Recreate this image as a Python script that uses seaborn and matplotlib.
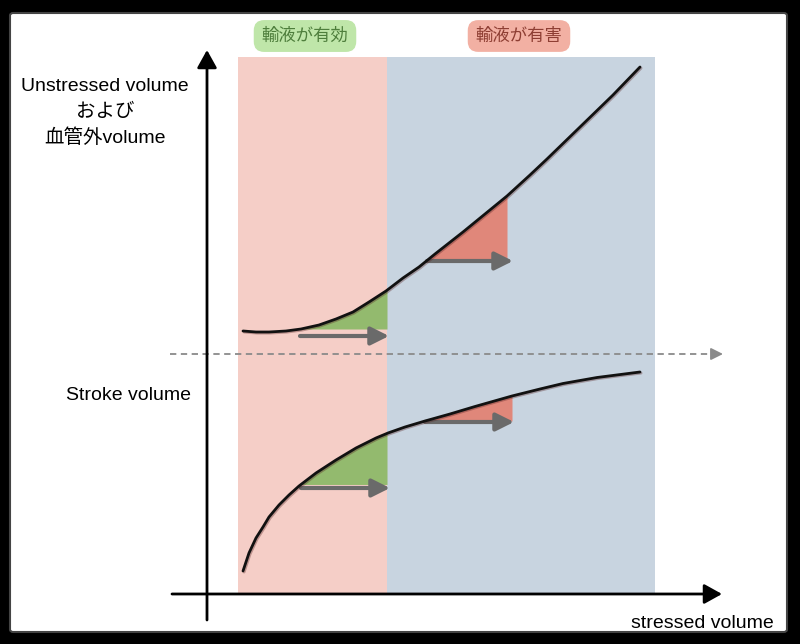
import numpy as np
import pandas as pd
import matplotlib
matplotlib.use("Agg")
import matplotlib.pyplot as plt
import matplotlib.patheffects as pe
from matplotlib.patches import FancyBboxPatch, Rectangle
import seaborn as sns

# ---------------- data (chart units: origin at axis crossing) ----------------
upper_x = [36, 49, 62, 79, 94, 112, 129, 146, 162, 179, 196, 212, 228, 256, 278,
           300, 323, 340, 373, 406, 433]
upper_y = [263, 262, 262, 263, 265, 269, 275, 282, 292, 303, 316, 327, 340, 362, 380,
           398, 419, 435, 467, 499, 527]

lower_x = [36, 42, 49, 56, 62, 72, 82, 92, 109, 129, 149, 169, 181, 198, 218, 243,
           268, 305, 333, 356, 390, 433]
lower_y = [23, 41, 56, 67, 77, 89, 99, 108, 121, 134, 146, 156, 161, 167, 173, 180,
           187.5, 198, 205, 210.5, 216.5, 222]

# triangles: (curve, x_start, x_end, colour)
tri_curve = ["upper", "upper", "lower", "lower"]
tri_x0 = [94, 220, 94, 218]
tri_x1 = [180, 300, 180, 305]
tri_kind = ["good", "bad", "good", "bad"]
# arrows under triangles
arr_y = [258, 333, 106, 172]
arr_x0 = [93, 220, 94, 218]
arr_x1 = [182, 306, 183, 307]

# shaded zones
zone_x0 = [31, 180]
zone_x1 = [180, 448]
zone_top = 537
zone_labels = ["輸液が有効", "輸液が有害"]

y_label_lines = ["Unstressed volume", "および", "血管外volume"]
sv_label = "Stroke volume"
x_label = "stressed volume"
divider_y = 240

# ---------------- style ----------------
sns.set_theme(style="white")
plt.rcParams["font.family"] = ["Liberation Sans", "Noto Sans CJK JP", "DejaVu Sans"]

PINK = "#F5CEC7"
BLUE = "#C8D4E0"
GREEN_TRI = "#93BA6E"
RED_TRI = "#E0877A"
GRAY_ARR = "#6a6a6a"

fig = plt.figure(figsize=(8, 6.44), dpi=100, facecolor="black")
# white panel
panel = FancyBboxPatch((10 / 800, 12 / 644), 777 / 800, 619 / 644,
                       boxstyle="round,pad=0,rounding_size=0.004",
                       transform=fig.transFigure, fc="white", ec="#444",
                       lw=1.5, zorder=-10)
fig.patches.append(panel)
ax = fig.add_axes([0, 0, 1, 1])
ax.set_zorder(5)
ax.set_facecolor("none")
ax.set_xlim(-207, 593)
ax.set_ylim(-50, 594)
ax.axis("off")

# zones
for x0, x1, c in zip(zone_x0, zone_x1, [PINK, BLUE]):
    ax.add_patch(Rectangle((x0, 0), x1 - x0, zone_top, fc=c, ec="none", zorder=1))

curves = {"upper": (np.array(upper_x), np.array(upper_y)),
          "lower": (np.array(lower_x), np.array(lower_y))}

# triangles
for cname, x0, x1, kind in zip(tri_curve, tri_x0, tri_x1, tri_kind):
    cx, cy = curves[cname]
    base = np.interp(x0, cx, cy)
    inner = (cx > x0) & (cx < x1)
    xs = np.concatenate([[x0], cx[inner], [x1]])
    ys = np.concatenate([[base], cy[inner], [np.interp(x1, cx, cy)]])
    ax.fill_between(xs, base, ys, color=GREEN_TRI if kind == "good" else RED_TRI,
                    lw=0, zorder=2)

# curves
df = pd.concat([
    pd.DataFrame({"x": upper_x, "y": upper_y, "c": "upper"}),
    pd.DataFrame({"x": lower_x, "y": lower_y, "c": "lower"}),
])
sns.lineplot(data=df, x="x", y="y", units="c", estimator=None, sort=False,
             color="#111", lw=2.0, ax=ax, zorder=4,
             path_effects=[pe.SimpleLineShadow(offset=(0.8, -0.8), alpha=0.35,
                                               shadow_color="#552222"),
                           pe.Normal()])
for ln in ax.get_lines():
    ln.set_solid_joinstyle("round")
    ln.set_solid_capstyle("round")
ax.set_xlabel("")
ax.set_ylabel("")

# gray arrows
for y, x0, x1 in zip(arr_y, arr_x0, arr_x1):
    ax.annotate("", xy=(x1, y), xytext=(x0, y),
                arrowprops=dict(arrowstyle="-|>,head_length=0.9,head_width=0.45",
                                lw=3, color=GRAY_ARR, shrinkA=0, shrinkB=0),
                zorder=3)

# axes arrows
ax.annotate("", xy=(0, 544), xytext=(0, -26),
            arrowprops=dict(arrowstyle="-|>,head_length=0.9,head_width=0.5",
                            lw=2, color="black", shrinkA=0, shrinkB=0), zorder=5)
ax.annotate("", xy=(515, 0), xytext=(-35, 0),
            arrowprops=dict(arrowstyle="-|>,head_length=0.9,head_width=0.5",
                            lw=2, color="black", shrinkA=0, shrinkB=0), zorder=5)

# dashed divider
ax.plot([-37, 508], [divider_y, divider_y], color="#8a8a8a", lw=1.3,
        dashes=(3.5, 2.5), zorder=3)
ax.annotate("", xy=(516, divider_y), xytext=(507, divider_y),
            arrowprops=dict(arrowstyle="-|>,head_length=0.6,head_width=0.3",
                            lw=1.3, color="#8a8a8a", shrinkA=0, shrinkB=0), zorder=3)

# zone labels
label_fc = ["#BFE6A9", "#F2B0A3"]
label_tc = ["#4E7E3C", "#8E3E33"]
centers = [98, 312]
for lab, cx, fc, tc in zip(zone_labels, centers, label_fc, label_tc):
    ax.text(cx, 558, lab, ha="center", va="center", fontsize=12.5, color=tc,
            bbox=dict(boxstyle="round,pad=0.45,rounding_size=0.6", fc=fc, ec="none"),
            zorder=6)

# axis labels
for line, yy in zip(y_label_lines, [508, 482, 456]):
    ax.text(-102, yy, line, ha="center", va="center", fontsize=14, color="black")
ax.text(-78, 198, sv_label, ha="center", va="center", fontsize=14, color="black")
ax.text(495, -29, x_label, ha="center", va="center", fontsize=14, color="black")

fig.savefig("out.png", dpi=100, facecolor="black")
